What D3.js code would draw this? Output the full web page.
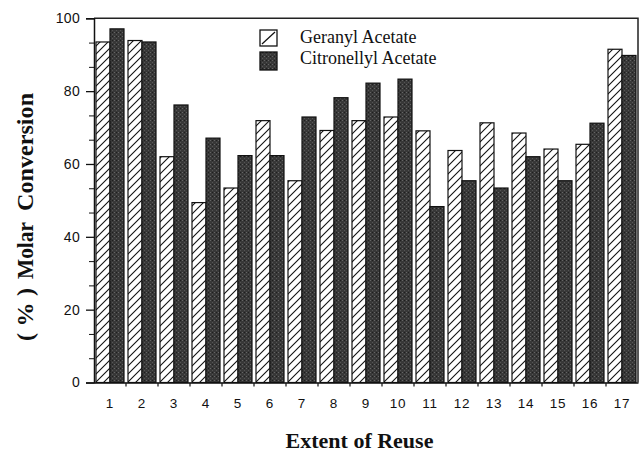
<!DOCTYPE html>
<html>
<head>
<meta charset="utf-8">
<script src="https://cdn.jsdelivr.net/npm/d3@7/dist/d3.min.js"></script>
<style>
  html, body { margin: 0; padding: 0; background: #fff; }
  svg { display: block; }
</style>
</head>
<body>
<svg id="chart" width="640" height="452"></svg>
<script>
const categories = ["1","2","3","4","5","6","7","8","9","10","11","12","13","14","15","16","17"];
const seriesNames = ["Geranyl Acetate", "Citronellyl Acetate"];
const geranyl =     [93.5, 93.9, 62.0, 49.4, 53.4, 71.9, 55.4, 69.2, 71.9, 72.9, 69.1, 63.7, 71.3, 68.5, 64.1, 65.4, 91.5];
const citronellyl = [97.1, 93.5, 76.2, 67.1, 62.3, 62.3, 72.9, 78.2, 82.2, 83.3, 48.3, 55.4, 53.4, 62.0, 55.4, 71.2, 89.8];
const yTicks = [0, 20, 40, 60, 80, 100];
const yMinorTicks = [20/3, 40/3, 80/3, 100/3, 140/3, 160/3, 200/3, 220/3, 260/3, 280/3];

const svg = d3.select("#chart");
const pLeft = 94, pRight = 638, pTop = 18.3, pBottom = 382.5;

const defs = svg.append("defs");
const hatch = defs.append("pattern").attr("id", "hatch")
  .attr("patternUnits", "userSpaceOnUse").attr("width", 8).attr("height", 8);
hatch.append("rect").attr("width", 8).attr("height", 8).attr("fill", "#fff");
hatch.append("path").attr("d", "M-2,2 L2,-2 M0,8 L8,0 M6,10 L10,6")
  .attr("stroke", "#111").attr("stroke-width", 1.1);

const dots = defs.append("pattern").attr("id", "dots")
  .attr("patternUnits", "userSpaceOnUse").attr("width", 4).attr("height", 4);
dots.append("rect").attr("width", 4).attr("height", 4).attr("fill", "#383838");
dots.append("rect").attr("x", 0).attr("y", 0).attr("width", 1).attr("height", 1).attr("fill", "#666");
dots.append("rect").attr("x", 2).attr("y", 2).attr("width", 1).attr("height", 1).attr("fill", "#555");
dots.append("rect").attr("x", 2).attr("y", 0).attr("width", 1).attr("height", 1).attr("fill", "#1e1e1e");

const x = d3.scaleBand().domain(categories).range([pLeft, pRight]).padding(0);
const x1 = d3.scaleBand().domain(seriesNames).range([2, x.bandwidth() - 2]).padding(0);
const y = d3.scaleLinear().domain([0, 100]).range([pBottom, pTop]);

const data = categories.map((c, i) => ({ cat: c, values: [
  { s: seriesNames[0], v: geranyl[i] },
  { s: seriesNames[1], v: citronellyl[i] }
]}));

const fills = { "Geranyl Acetate": "url(#hatch)", "Citronellyl Acetate": "url(#dots)" };

const groups = svg.append("g").selectAll("g").data(data).join("g")
  .attr("transform", d => `translate(${x(d.cat)},0)`);
groups.selectAll("rect").data(d => d.values).join("rect")
  .attr("x", d => x1(d.s))
  .attr("width", x1.bandwidth())
  .attr("y", d => y(d.v))
  .attr("height", d => y(0) - y(d.v))
  .attr("fill", d => fills[d.s])
  .attr("stroke", "#111")
  .attr("stroke-width", 1.2);

// frame (top and right)
svg.append("path")
  .attr("d", `M${pLeft},${pTop} L${pRight},${pTop} L${pRight},${pBottom}`)
  .attr("fill", "none").attr("stroke", "#222").attr("stroke-width", 1.5);

// y axis
const yAxis = svg.append("g").attr("transform", `translate(${pLeft},0)`)
  .call(d3.axisLeft(y).tickValues(yTicks).tickSize(8).tickPadding(6).tickFormat(d3.format("d")));
yAxis.select(".domain").attr("stroke", "#111").attr("stroke-width", 1.5);
yAxis.selectAll(".tick line").attr("stroke", "#111").attr("stroke-width", 1.3);
yAxis.selectAll("text").attr("font-family", "Liberation Sans, Arial, sans-serif")
  .attr("font-size", 14).attr("fill", "#111").attr("letter-spacing", 0.3);
const yMinor = svg.append("g").attr("transform", `translate(${pLeft},0)`)
  .call(d3.axisLeft(y).tickValues(yMinorTicks).tickSize(5).tickFormat(""));
yMinor.select(".domain").remove();
yMinor.selectAll(".tick line").attr("stroke", "#111").attr("stroke-width", 1);

// x axis: ticks at category boundaries
const xAxis = svg.append("g").attr("transform", `translate(0,${pBottom})`)
  .call(d3.axisBottom(x).tickSize(0).tickPadding(16));
xAxis.select(".domain").attr("stroke", "#111").attr("stroke-width", 1.5);
xAxis.selectAll("text").attr("font-family", "Liberation Sans, Arial, sans-serif")
  .attr("font-size", 13.5).attr("fill", "#111").attr("letter-spacing", 0.8);
svg.append("g").selectAll("line").data(categories.slice(1)).join("line")
  .attr("x1", d => x(d)).attr("x2", d => x(d))
  .attr("y1", pBottom).attr("y2", pBottom + 4)
  .attr("stroke", "#111").attr("stroke-width", 1.2);

// legend
const legend = svg.append("g");
legend.append("rect").attr("x", 260).attr("y", 30).attr("width", 17).attr("height", 16)
  .attr("fill", "#fff").attr("stroke", "#111").attr("stroke-width", 1.3);
legend.append("path").attr("d", "M262,44 L275,32").attr("stroke", "#111").attr("stroke-width", 1.2);
legend.append("rect").attr("x", 260).attr("y", 52).attr("width", 17).attr("height", 18)
  .attr("fill", "url(#dots)").attr("stroke", "#111").attr("stroke-width", 1.3);
legend.selectAll("text").data(seriesNames).join("text")
  .attr("x", 300).attr("y", (d, i) => 42.5 + i * 21)
  .attr("font-family", "Liberation Serif, Times New Roman, serif")
  .attr("font-size", 18).attr("fill", "#111")
  .text(d => d);

// axis titles
const yt = svg.append("text")
  .attr("transform", "translate(33,0) rotate(-90)")
  .attr("font-family", "Liberation Serif, Times New Roman, serif")
  .attr("font-weight", "bold").attr("font-size", 24).attr("fill", "#111");
yt.append("tspan").attr("x", -341).attr("textLength", 53).attr("lengthAdjust", "spacing").text("(%)");
yt.append("tspan").attr("x", -279).attr("textLength", 57).attr("lengthAdjust", "spacingAndGlyphs").text("Molar");
yt.append("tspan").attr("x", -211).attr("textLength", 118).attr("lengthAdjust", "spacing").text("Conversion");

svg.append("text").attr("x", 359.5).attr("y", 448).attr("text-anchor", "middle")
  .attr("font-family", "Liberation Serif, Times New Roman, serif")
  .attr("font-weight", "bold").attr("font-size", 22).attr("fill", "#111")
  .text("Extent of Reuse");
</script>
</body>
</html>
